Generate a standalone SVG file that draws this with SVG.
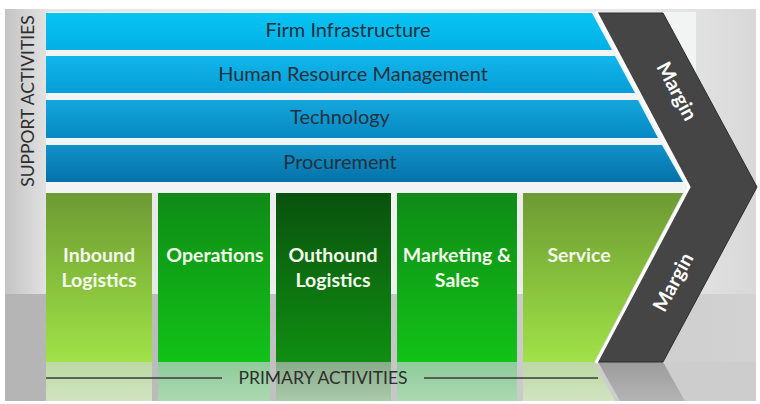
<svg xmlns="http://www.w3.org/2000/svg" width="760" height="404" viewBox="0 0 760 404">
  <defs>
    <linearGradient id="bgTop" x1="0" y1="0" x2="1" y2="0">
      <stop offset="0" stop-color="#c4c4c4"/>
      <stop offset="0.06" stop-color="#e4e4e4"/>
      <stop offset="0.5" stop-color="#f2f2f2"/>
      <stop offset="0.9" stop-color="#e4e4e4"/>
      <stop offset="1" stop-color="#d8d8d8"/>
    </linearGradient>
    <linearGradient id="bgBottom" x1="0" y1="0" x2="1" y2="0">
      <stop offset="0" stop-color="#b4b4b4"/>
      <stop offset="0.5" stop-color="#c6c6c6"/>
      <stop offset="1" stop-color="#d2d2d2"/>
    </linearGradient>
    <linearGradient id="blue1" x1="0" y1="0" x2="0" y2="1">
      <stop offset="0" stop-color="#08c4f5"/>
      <stop offset="1" stop-color="#02b0e6"/>
    </linearGradient>
    <linearGradient id="blue2" x1="0" y1="0" x2="0" y2="1">
      <stop offset="0" stop-color="#12b6ec"/>
      <stop offset="1" stop-color="#069dd6"/>
    </linearGradient>
    <linearGradient id="blue3" x1="0" y1="0" x2="0" y2="1">
      <stop offset="0" stop-color="#14a6dc"/>
      <stop offset="1" stop-color="#0788c2"/>
    </linearGradient>
    <linearGradient id="blue4" x1="0" y1="0" x2="0" y2="1">
      <stop offset="0" stop-color="#1092c8"/>
      <stop offset="1" stop-color="#0572aa"/>
    </linearGradient>
    <linearGradient id="greenLight" x1="0" y1="0" x2="0" y2="1">
      <stop offset="0" stop-color="#6d9a34"/>
      <stop offset="0.5" stop-color="#86bf3c"/>
      <stop offset="1" stop-color="#a0e248"/>
    </linearGradient>
    <linearGradient id="greenMid" x1="0" y1="0" x2="0" y2="1">
      <stop offset="0" stop-color="#0f8a16"/>
      <stop offset="1" stop-color="#12c218"/>
    </linearGradient>
    <linearGradient id="greenDark" x1="0" y1="0" x2="0" y2="1">
      <stop offset="0" stop-color="#0a520e"/>
      <stop offset="1" stop-color="#0f8e12"/>
    </linearGradient>
    <linearGradient id="reflLight" x1="0" y1="0" x2="0" y2="1">
      <stop offset="0" stop-color="#bcd8a2"/>
      <stop offset="1" stop-color="#d2e4c2"/>
    </linearGradient>
    <linearGradient id="reflMid" x1="0" y1="0" x2="0" y2="1">
      <stop offset="0" stop-color="#8ecc9a"/>
      <stop offset="1" stop-color="#acd8b2"/>
    </linearGradient>
    <linearGradient id="reflDark" x1="0" y1="0" x2="0" y2="1">
      <stop offset="0" stop-color="#88ac8a"/>
      <stop offset="1" stop-color="#aacaaa"/>
    </linearGradient>
    <linearGradient id="reflChevron" x1="0" y1="0" x2="0" y2="1">
      <stop offset="0" stop-color="#9c9c9c"/>
      <stop offset="1" stop-color="#b4b4b4"/>
    </linearGradient>
    <style>
      .bar-label { font-family: Lato, "Liberation Sans", sans-serif; font-size: 20px; fill: #24313d; text-anchor: middle; }
      .col-label { font-family: Lato, "Liberation Sans", sans-serif; font-size: 19.5px; font-weight: bold; fill: #f4f9ec; text-anchor: middle; }
      .margin-label { font-family: Lato, "Liberation Sans", sans-serif; font-size: 20px; font-weight: bold; fill: #ffffff; text-anchor: middle; }
      .side-label { font-family: Lato, "Liberation Sans", sans-serif; font-size: 17.5px; fill: #2e2e2e; text-anchor: middle; }
      .gap { fill: #f2f4f4; }
      .bracket { stroke: #3a3a3a; stroke-width: 1.6; fill: none; }
    </style>
  </defs>

  <!-- backdrop -->
  <rect x="0" y="0" width="760" height="404" fill="#ffffff"/>
  <rect x="5" y="9" width="751" height="286" fill="url(#bgTop)"/>
  <rect x="5" y="294" width="751" height="107" fill="url(#bgBottom)"/>
  <polygon points="663,362 756,362 756,401 685,401" fill="#cdcdcd"/>

  <!-- support activities -->
  <rect x="46" y="12" width="650" height="175" class="gap"/>
  <g id="firm-infrastructure">
    <polygon points="46,13 592,13 612,50 46,50" fill="url(#blue1)"/>
    <text x="348" y="37" class="bar-label">Firm Infrastructure</text>
  </g>
  <g id="human-resource-management">
    <polygon points="46,56 615,56 635,93 46,93" fill="url(#blue2)"/>
    <text x="353" y="81" class="bar-label">Human Resource Management</text>
  </g>
  <g id="technology">
    <polygon points="46,100 638,100 658,138 46,138" fill="url(#blue3)"/>
    <text x="340" y="124" class="bar-label">Technology</text>
  </g>
  <g id="procurement">
    <polygon points="46,145 662,145 683,182 46,182" fill="url(#blue4)"/>
    <text x="340" y="169" class="bar-label">Procurement</text>
  </g>
  <text transform="translate(34,101) rotate(-90)" class="side-label">SUPPORT ACTIVITIES</text>

  <!-- primary activities -->
  <rect x="46" y="187" width="640" height="6" class="gap"/>
  <g id="inbound-logistics">
    <rect x="46" y="193" width="106" height="169" fill="url(#greenLight)"/>
    <rect x="46" y="362" width="106" height="39" fill="url(#reflLight)"/>
    <text x="99" y="262" class="col-label">Inbound</text>
    <text x="99" y="287" class="col-label">Logistics</text>
  </g>
  <g id="operations">
    <rect x="158" y="193" width="112" height="169" fill="url(#greenMid)"/>
    <rect x="158" y="362" width="112" height="39" fill="url(#reflMid)"/>
    <text x="215" y="262" class="col-label">Operations</text>
  </g>
  <g id="outbound-logistics">
    <rect x="276" y="193" width="115" height="169" fill="url(#greenDark)"/>
    <rect x="276" y="362" width="115" height="39" fill="url(#reflDark)"/>
    <text x="333" y="262" class="col-label">Outhound</text>
    <text x="333" y="287" class="col-label">Logistics</text>
  </g>
  <g id="marketing-sales">
    <rect x="397" y="193" width="120" height="169" fill="url(#greenMid)"/>
    <rect x="397" y="362" width="120" height="39" fill="url(#reflMid)"/>
    <text x="457" y="262" class="col-label">Marketing &amp;</text>
    <text x="457" y="287" class="col-label">Sales</text>
  </g>
  <g id="service">
    <polygon points="523,193 683,193 594,362 523,362" fill="url(#greenLight)"/>
    <polygon points="523,362 594,362 615,401 523,401" fill="url(#reflLight)"/>
    <text x="579" y="262" class="col-label">Service</text>
  </g>

  <!-- margin chevron -->
  <g id="margin">
    <polygon points="598,362 663,362 685,401 620,401" fill="url(#reflChevron)"/>
    <polygon points="598,13 663,13 757,187 663,362 598,362 690,187" fill="#454545" stroke="#2c2c2c" stroke-width="1"/>
    <polyline points="596,12 689,187 596,363" fill="none" stroke="#ffffff" stroke-width="3"/>
    <text transform="translate(677,91) rotate(62)" class="margin-label" dy="7">Margin</text>
    <text transform="translate(673,282) rotate(-62)" class="margin-label" dy="7">Margin</text>
  </g>

  <!-- primary activities bracket -->
  <g id="primary-bracket">
    <line x1="46" y1="378" x2="222" y2="378" class="bracket"/>
    <line x1="424" y1="378" x2="598" y2="378" class="bracket"/>
    <text x="323" y="384" class="side-label">PRIMARY ACTIVITIES</text>
  </g>
</svg>
